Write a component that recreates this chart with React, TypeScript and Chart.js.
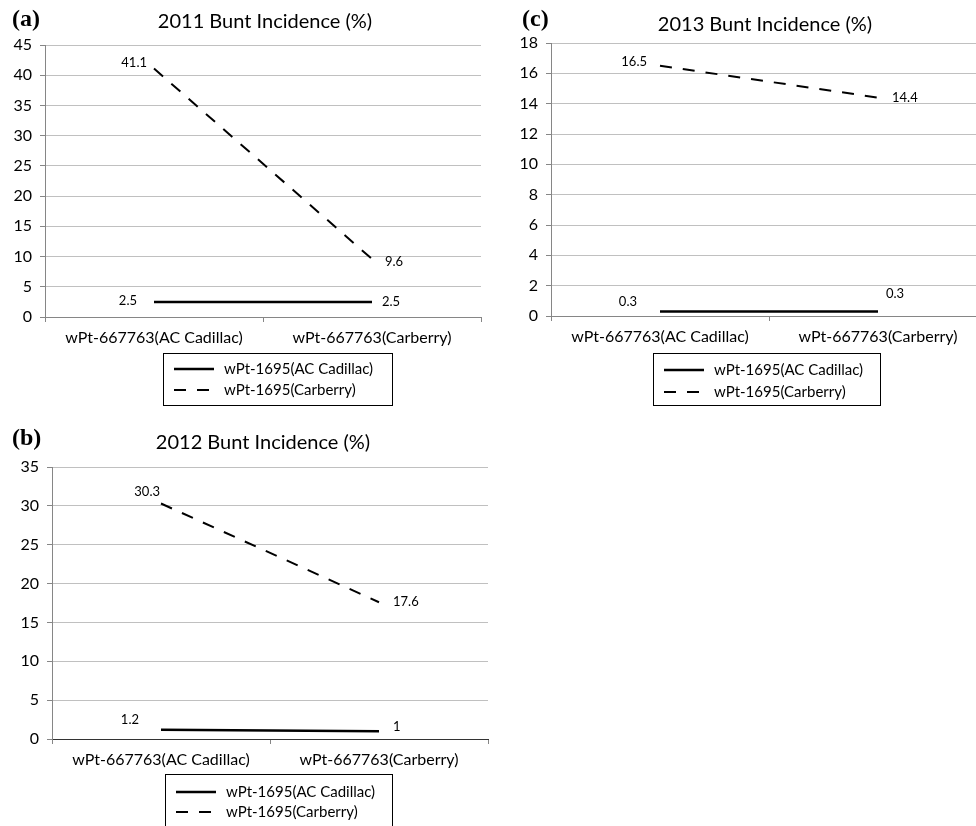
import React, { useEffect, useRef } from 'react';
import { Chart, registerables } from 'chart.js';

Chart.register(...registerables);

// ---------- data ----------
const categories = ['wPt-667763(AC Cadillac)', 'wPt-667763(Carberry)'];
const seriesNames = ['wPt-1695(AC Cadillac)', 'wPt-1695(Carberry)'];

const acCadillac2011 = [2.5, 2.5];
const carberry2011 = [41.1, 9.6];
const acCadillac2012 = [1.2, 1];
const carberry2012 = [30.3, 17.6];
const acCadillac2013 = [0.3, 0.3];
const carberry2013 = [16.5, 14.4];

const yMax2011 = 45;
const yStep2011 = 5;
const yMax2012 = 35;
const yStep2012 = 5;
const yMax2013 = 18;
const yStep2013 = 2;

const titles = ['2011 Bunt Incidence (%)', '2012 Bunt Incidence (%)', '2013 Bunt Incidence (%)'];
const letters = ['(a)', '(b)', '(c)'];

// ---------- styles ----------
const FONT = 'Lato';
const AXIS_COLOR = '#868686';
const GRID_COLOR = '#c0c0c0';
const Y_AXIS_W = 40;
const X_AXIS_H = 34;
const DASH = [12, 11];

type LabelSpec = { side: 'left' | 'right'; dx: number; dy: number };

type PanelProps = {
  left: number;
  top: number;
  width: number;
  height: number;
  area: { l: number; t: number; r: number; b: number };
  title: string;
  titleX: number;
  titleY: number;
  letter: string;
  letterX: number;
  letterY: number;
  legend: { x: number; y: number; w: number; h: number; rows: number[] };
  solid: number[];
  dashed: number[];
  yMax: number;
  yStep: number;
  labels: LabelSpec[][];
  dashedAxis?: boolean;
};

function Panel(p: PanelProps) {
  const ref = useRef<HTMLCanvasElement | null>(null);

  useEffect(() => {
    const canvas = ref.current;
    if (!canvas) return;

    const decor = {
      id: 'decor',
      afterDraw(chart: any) {
        const ctx = chart.ctx as CanvasRenderingContext2D;
        ctx.save();
        // panel letter
        ctx.fillStyle = '#000';
        ctx.font = `bold 24px "Liberation Serif"`;
        ctx.textAlign = 'left';
        ctx.textBaseline = 'middle';
        ctx.fillText(p.letter, p.letterX, p.letterY);
        // title
        ctx.font = `20px ${FONT}`;
        ctx.textAlign = 'center';
        ctx.fillText(p.title, p.titleX, p.titleY);
        // data labels
        ctx.font = `13px ${FONT}`;
        chart.data.datasets.forEach((ds: any, di: number) => {
          const meta = chart.getDatasetMeta(di);
          meta.data.forEach((el: any, pi: number) => {
            const spec = p.labels[di][pi];
            ctx.textAlign = spec.side === 'left' ? 'right' : 'left';
            ctx.textBaseline = 'middle';
            ctx.fillText(String(ds.data[pi]), el.x + spec.dx, el.y + spec.dy);
          });
        });
        // legend
        const lg = p.legend;
        ctx.strokeStyle = '#000';
        ctx.lineWidth = 1;
        ctx.setLineDash([]);
        ctx.strokeRect(lg.x + 0.5, lg.y + 0.5, lg.w, lg.h);
        ctx.font = `15px ${FONT}`;
        ctx.textAlign = 'left';
        chart.data.datasets.forEach((ds: any, di: number) => {
          const y = lg.rows[di];
          ctx.beginPath();
          ctx.lineWidth = ds.borderWidth;
          ctx.setLineDash(ds.borderDash || []);
          ctx.moveTo(lg.x + 11, y);
          ctx.lineTo(lg.x + 51, y);
          ctx.stroke();
          ctx.setLineDash([]);
          ctx.fillText(ds.label, lg.x + 61, y);
        });
        ctx.restore();
      },
    };

    const chart = new Chart(canvas, {
      type: 'line',
      data: {
        labels: categories,
        datasets: [
          {
            label: seriesNames[0],
            data: p.solid,
            borderColor: '#000',
            borderWidth: 2.5,
            pointRadius: 0,
            tension: 0,
            fill: false,
          },
          {
            label: seriesNames[1],
            data: p.dashed,
            borderColor: '#000',
            borderWidth: 2,
            borderDash: DASH,
            pointRadius: 0,
            tension: 0,
            fill: false,
          },
        ],
      },
      options: {
        responsive: false,
        maintainAspectRatio: false,
        animation: false,
        devicePixelRatio: 1,
        layout: {
          padding: {
            left: p.area.l - Y_AXIS_W,
            top: p.area.t,
            right: p.width - p.area.r,
            bottom: p.height - p.area.b - X_AXIS_H,
          },
        },
        plugins: {
          legend: { display: false },
          tooltip: { enabled: false },
          title: { display: false },
        },
        scales: {
          x: {
            type: 'category',
            offset: true,
            grid: {
              display: true,
              offset: true,
              drawOnChartArea: false,
              drawTicks: true,
              tickLength: 5,
              color: AXIS_COLOR,
            },
            border: {
              display: true,
              color: p.dashedAxis ? '#333333' : AXIS_COLOR,
              width: 1,
              dash: p.dashedAxis ? [4, 3] : [],
            },
            ticks: {
              color: '#000',
              font: { family: FONT, size: 16 },
              padding: 6,
              maxRotation: 0,
              autoSkip: false,
            },
            afterFit: (s: any) => {
              s.height = X_AXIS_H;
            },
          },
          y: {
            min: 0,
            max: p.yMax,
            grid: {
              color: (c: any) => (p.dashedAxis && c.tick && c.tick.value === 0 ? 'rgba(0,0,0,0)' : GRID_COLOR),
              tickColor: AXIS_COLOR,
              tickLength: 5,
              lineWidth: 1,
            },
            border: { display: true, color: AXIS_COLOR, width: 1 },
            ticks: {
              stepSize: p.yStep,
              color: '#000',
              font: { family: FONT, size: 16 },
              padding: 8,
            },
            afterFit: (s: any) => {
              s.width = Y_AXIS_W;
            },
          },
        },
      },
      plugins: [decor],
    } as any);

    return () => {
      chart.destroy();
    };
  }, []);

  return (
    <canvas
      ref={ref}
      width={p.width}
      height={p.height}
      style={{ position: 'absolute', left: p.left, top: p.top, width: p.width, height: p.height, display: 'block' }}
    />
  );
}

export default function App() {
  return (
    <div
      style={{
        position: 'absolute',
        left: 0,
        top: 0,
        width: 976,
        height: 826,
        overflow: 'hidden',
        background: '#fff',
      }}
    >
      <Panel
        left={0}
        top={0}
        width={490}
        height={410}
        area={{ l: 45, t: 45, r: 481, b: 317 }}
        title={titles[0]}
        titleX={265}
        titleY={22}
        letter={letters[0]}
        letterX={12}
        letterY={20}
        legend={{ x: 163, y: 353, w: 229, h: 52, rows: [369, 390] }}
        solid={acCadillac2011}
        dashed={carberry2011}
        yMax={yMax2011}
        yStep={yStep2011}
        labels={[
          [
            { side: 'left', dx: -17, dy: -1 },
            { side: 'right', dx: 10, dy: 0 },
          ],
          [
            { side: 'left', dx: -7, dy: -6 },
            { side: 'right', dx: 13, dy: 3 },
          ],
        ]}
      />
      <Panel
        left={490}
        top={0}
        width={500}
        height={410}
        area={{ l: 61, t: 43, r: 497, b: 316 }}
        title={titles[2]}
        titleX={275}
        titleY={25}
        letter={letters[2]}
        letterX={32}
        letterY={20}
        legend={{ x: 163, y: 353, w: 227, h: 52, rows: [370, 392] }}
        solid={acCadillac2013}
        dashed={carberry2013}
        yMax={yMax2013}
        yStep={yStep2013}
        labels={[
          [
            { side: 'left', dx: -23, dy: -10 },
            { side: 'right', dx: 8, dy: -18 },
          ],
          [
            { side: 'left', dx: -13, dy: -4 },
            { side: 'right', dx: 14, dy: 0 },
          ],
        ]}
      />
      <Panel
        left={0}
        top={400}
        width={490}
        height={426}
        area={{ l: 52, t: 67, r: 488, b: 339 }}
        title={titles[1]}
        titleX={263}
        titleY={43}
        letter={letters[1]}
        letterX={12}
        letterY={39}
        legend={{ x: 165, y: 374, w: 227, h: 70, rows: [392, 412] }}
        solid={acCadillac2012}
        dashed={carberry2012}
        yMax={yMax2012}
        yStep={yStep2012}
        dashedAxis
        labels={[
          [
            { side: 'left', dx: -22, dy: -10 },
            { side: 'right', dx: 14, dy: -4 },
          ],
          [
            { side: 'left', dx: -1, dy: -12 },
            { side: 'right', dx: 14, dy: 0 },
          ],
        ]}
      />
    </div>
  );
}
